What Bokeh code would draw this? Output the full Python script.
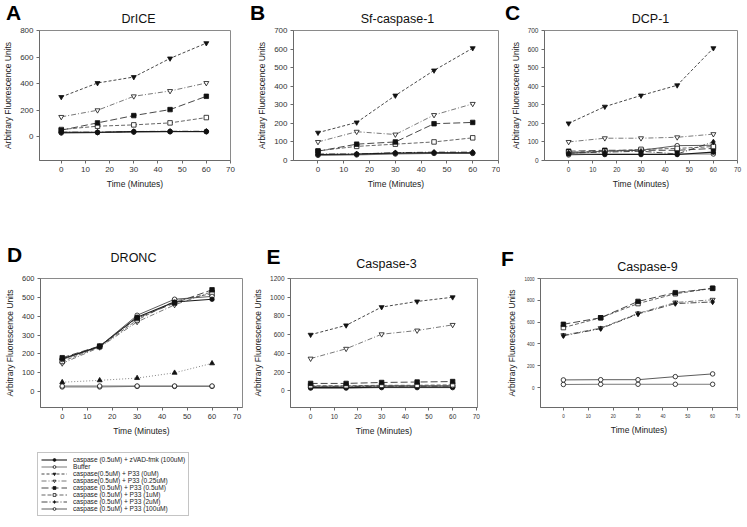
from bokeh.plotting import figure
from bokeh.layouts import column, row
from bokeh.models import FixedTicker, Range1d, Legend, LegendItem
from bokeh.core.properties import value
from bokeh.embed import file_html
from bokeh.resources import INLINE

FONT = "Liberation Sans"
NAN = float("nan")

# ---------------- data ----------------
time_min = [0, 15, 30, 45, 60]
x_ticks = [0, 10, 20, 30, 40, 50, 60, 70]

series_labels = {
    "zvad": "caspase (0.5uM) + zVAD-fmk (100uM)",
    "buffer": "Buffer",
    "p0": "caspase(0.5uM) + P33 (0uM)",
    "p025": "caspase(0.5uM) + P33 (0.25uM)",
    "p05": "caspase (0.5uM) + P33 (0.5uM)",
    "p1": "caspase (0.5uM) + P33 (1uM)",
    "p2": "caspase (0.5uM) + P33 (2uM)",
    "p100": "caspase (0.5uM) + P33 (100uM)",
}
legend_order = ["zvad", "buffer", "p0", "p025", "p05", "p1", "p2", "p100"]

panel_letters = ["A", "B", "C", "D", "E", "F"]
panel_titles = ["DrICE", "Sf-caspase-1", "DCP-1", "DRONC", "Caspase-3", "Caspase-9"]
x_title = "Time (Minutes)"
y_title = "Arbitrary Fluorescence Units"

# A  DrICE
A_zvad = [35, 35, 40, 40, 40]
A_buffer = [30, 32, 35, 38, 38]
A_p0 = [300, 405, 450, 590, 705]
A_p025 = [150, 200, 305, 345, 405]
A_p05 = [50, 105, 160, 205, 305]
A_p1 = [55, 80, 90, 105, 145]
A_p2 = [35, 35, 40, 42, 42]
A_p100 = [30, 32, 38, 40, 40]
A_yticks = [0, 200, 400, 600, 800]

# B  Sf-caspase-1
B_zvad = [32, 35, 40, 42, 42]
B_buffer = [28, 30, 35, 38, 38]
B_p0 = [150, 205, 350, 485, 605]
B_p025 = [100, 155, 140, 245, 305]
B_p05 = [50, 88, 100, 198, 205]
B_p1 = [52, 76, 88, 100, 122]
B_p2 = [35, 35, 42, 45, 45]
B_p100 = [30, 33, 38, 40, 40]
B_yticks = [0, 100, 200, 300, 400, 500, 600, 700]

# C  DCP-1
C_zvad = [35, 32, 32, 32, 45]
C_buffer = [30, 35, 35, 35, 35]
C_p0 = [200, 290, 350, 405, 605]
C_p025 = [100, 120, 120, 125, 142]
C_p05 = [50, 55, 55, 55, 65]
C_p1 = [45, 50, 60, 65, 75]
C_p2 = [40, 45, 50, 35, 100]
C_p100 = [40, 50, 55, 80, 82]
C_yticks = [0, 100, 200, 300, 400, 500, 600, 700]

# D  DRONC
D_zvad = [175, 240, 395, 475, 490]
D_p05 = [180, 242, 390, 470, 540]
D_p025 = [150, 235, 370, 460, 530]
D_p1 = [160, 238, 380, 480, 520]
D_p100 = [170, 240, 405, 490, 505]
D_buffer = [25, 25, 28, 28, 28]
D_buffer2 = [30, 30, 30, 30, 30]
D_triangle = [50, 60, 72, 100, 150]
D_yticks = [0, 100, 200, 300, 400, 500, 600]

# E  Caspase-3
E_zvad = [35, 35, 40, 40, 40]
E_buffer = [30, 30, 35, 35, 35]
E_p0 = [600, 700, 895, 955, 1000]
E_p025 = [345, 450, 605, 645, 705]
E_p05 = [80, 80, 90, 95, 100]
E_p1 = [55, 55, 60, 60, 65]
E_p2 = [45, 45, 50, 50, 52]
E_p100 = [50, 50, 55, 55, 55]
E_yticks = [0, 200, 400, 600, 800, 1000, 1200]

# F  Caspase-9
F_p05 = [580, 640, 790, 870, 910]
F_p1 = [550, 640, 770, 860, 910]
F_p2 = [475, 540, 675, 770, 785]
F_p025 = [480, 545, 680, 780, 805]
F_p100 = [70, 72, 72, 100, 125]
F_buffer = [28, 30, 30, 30, 30]
F_yticks = [0, 200, 400, 600, 800, 1000]

# ---------------- styles ----------------
STYLE = {
    "zvad": dict(marker="circle", fill="#111111", dash="solid", color="#1a1a1a", lw=1.1, size=4.5),
    "buffer": dict(marker="circle", fill="white", dash="solid", color="#6a6a6a", lw=0.9, size=4.5),
    "p0": dict(marker="inverted_triangle", fill="#111111", dash="3 2", color="#333333", lw=0.9, size=5),
    "p025": dict(marker="inverted_triangle", fill="white", dash="5 2 1 2", color="#6a6a6a", lw=0.9, size=5),
    "p05": dict(marker="square", fill="#111111", dash="7 3", color="#333333", lw=0.9, size=4.5),
    "p1": dict(marker="square", fill="white", dash="4 2", color="#555555", lw=0.9, size=4.5),
    "p2": dict(marker="diamond", fill="#111111", dash="6 2 1 2", color="#333333", lw=0.9, size=5.5),
    "p100": dict(marker="circle", fill="white", dash="solid", color="#4a4a4a", lw=0.9, size=4.5),
    "tri": dict(marker="triangle", fill="#111111", dash="1 2", color="#777777", lw=0.9, size=5),
}

# layout boxes in page pixels: fig=(x0, y0, w, h), frame=(left, top, right, bottom)
PANELS = [
    dict(fig=(0, 26, 250, 214), frame=(36, 30, 230, 163),
         xr=(-9, 70), yr=(-178, 800), yticks=A_yticks, tick_fs="8px",
         series=[("buffer", A_buffer), ("p100", A_p100), ("p2", A_p2), ("zvad", A_zvad),
                 ("p1", A_p1), ("p05", A_p05), ("p025", A_p025), ("p0", A_p0)]),
    dict(fig=(250, 26, 250, 214), frame=(293, 29, 498, 160),
         xr=(-9.5, 70), yr=(0, 700), yticks=B_yticks, tick_fs="8px",
         series=[("buffer", B_buffer), ("p100", B_p100), ("p2", B_p2), ("zvad", B_zvad),
                 ("p1", B_p1), ("p05", B_p05), ("p025", B_p025), ("p0", B_p0)]),
    dict(fig=(500, 26, 246, 214), frame=(544, 29, 737, 163),
         xr=(-10, 70), yr=(0, 700), yticks=C_yticks, tick_fs="6.5px",
         series=[("buffer", C_buffer), ("p100", C_p100), ("p05", C_p05), ("p1", C_p1),
                 ("zvad", C_zvad), ("p2", C_p2), ("p025", C_p025), ("p0", C_p0)]),
    dict(fig=(0, 273, 250, 170), frame=(40, 277, 242, 407),
         xr=(-8.7, 72.2), yr=(-84, 600), yticks=D_yticks, tick_fs="7.5px",
         series=[("buffer", D_buffer), ("buffer", D_buffer2), ("tri", D_triangle),
                 ("p025", D_p025), ("p1", D_p1), ("p100", D_p100), ("zvad", D_zvad), ("p05", D_p05)]),
    dict(fig=(250, 273, 240, 170), frame=(289, 276, 477, 408),
         xr=(-8.5, 70.5), yr=(-177, 1200), yticks=E_yticks, tick_fs="6.5px",
         series=[("buffer", E_buffer), ("zvad", E_zvad), ("p2", E_p2), ("p100", E_p100),
                 ("p1", E_p1), ("p05", E_p05), ("p025", E_p025), ("p0", E_p0)]),
    dict(fig=(490, 273, 256, 170), frame=(540, 278, 737, 412),
         xr=(-9.2, 70), yr=(-183, 1000), yticks=F_yticks, tick_fs="4.5px",
         series=[("buffer", F_buffer), ("p100", F_p100), ("p025", F_p025), ("p2", F_p2),
                 ("p1", F_p1), ("p05", F_p05)]),
]

# heading strips (page pixels): letters and panel titles
STRIPS = [
    dict(y0=0, h=26, letters=[(13, 12), (257, 12), (512, 12)],
         titles=[(138, 18.5), (397, 18.5), (650, 18.5)], idx=[0, 1, 2]),
    dict(y0=240, h=33, letters=[(14, 254), (273, 256), (507, 258)],
         titles=[(133, 257), (386, 263), (647, 266)], idx=[3, 4, 5]),
]


def add_series(p, key, ys):
    st = STYLE[key]
    p.line(time_min, ys, line_color=st["color"], line_width=st["lw"], line_dash=st["dash"])
    p.scatter(time_min, ys, marker=st["marker"], size=st["size"], fill_color=st["fill"],
              line_color="#111111", line_width=0.8)


def make_panel(spec):
    fx, fy, fw, fh = spec["fig"]
    l, t, r, b = spec["frame"]
    p = figure(width=fw, height=fh, output_backend="svg", toolbar_location=None,
               x_range=Range1d(*spec["xr"]), y_range=Range1d(*spec["yr"]),
               min_border_left=l - fx, min_border_right=fx + fw - r,
               min_border_top=t - fy, min_border_bottom=fy + fh - b,
               background_fill_color="white", border_fill_color="white")
    p.outline_line_color = "#8a8a8a"
    p.outline_line_width = 1
    p.xgrid.visible = False
    p.ygrid.visible = False
    p.xaxis.ticker = FixedTicker(ticks=x_ticks, minor_ticks=[])
    p.yaxis.ticker = FixedTicker(ticks=spec["yticks"], minor_ticks=[])
    p.xaxis.axis_label = x_title
    p.yaxis.axis_label = y_title
    for ax in (p.xaxis[0], p.yaxis[0]):
        ax.axis_line_color = "#6a6a6a"
        ax.major_tick_line_color = "#6a6a6a"
        ax.major_tick_out = 3
        ax.major_tick_in = 0
        ax.minor_tick_line_color = None
        ax.major_label_standoff = 3
        ax.major_label_text_font = FONT
        ax.major_label_text_font_size = spec["tick_fs"]
        ax.major_label_text_color = "#333333"
        ax.axis_label_text_font = FONT
        ax.axis_label_text_font_size = "8.5px"
        ax.axis_label_text_font_style = "normal"
        ax.axis_label_text_color = "#222222"
        ax.axis_label_standoff = 4
    for key, ys in spec["series"]:
        add_series(p, key, ys)
    return p


def make_strip(spec):
    h = spec["h"]
    y0 = spec["y0"]
    s = figure(width=746, height=h, output_backend="svg", toolbar_location=None,
               x_range=Range1d(0, 746), y_range=Range1d(h, 0),
               x_axis_type=None, y_axis_type=None, min_border=0,
               background_fill_color="white", border_fill_color="white")
    s.outline_line_color = None
    s.xgrid.visible = False
    s.ygrid.visible = False
    s.text(x=[pt[0] for pt in spec["letters"]], y=[pt[1] - y0 for pt in spec["letters"]],
           text=[panel_letters[i] for i in spec["idx"]],
           text_font=value(FONT), text_font_size=value("21px"), text_font_style="bold",
           text_align="center", text_baseline="middle", text_color="black")
    s.text(x=[pt[0] for pt in spec["titles"]], y=[pt[1] - y0 for pt in spec["titles"]],
           text=[panel_titles[i] for i in spec["idx"]],
           text_font=value(FONT), text_font_size=value("12.5px"), text_font_style="normal",
           text_align="center", text_baseline="middle", text_color="#111111")
    return s


figs = [make_panel(s) for s in PANELS]
strips = [make_strip(s) for s in STRIPS]

# legend panel
lg = figure(width=300, height=83, output_backend="svg", toolbar_location=None,
            x_range=Range1d(0, 1), y_range=Range1d(0, 1), x_axis_type=None, y_axis_type=None,
            min_border=0, background_fill_color="white", border_fill_color="white")
lg.outline_line_color = None
lg.xgrid.visible = False
lg.ygrid.visible = False
items = []
for key in legend_order:
    st = STYLE[key]
    r1 = lg.line(x=[NAN], y=[NAN], line_color=st["color"], line_width=st["lw"], line_dash=st["dash"])
    r2 = lg.scatter(x=[NAN], y=[NAN], marker=st["marker"], size=st["size"] - 0.5, fill_color=st["fill"],
                    line_color="#111111", line_width=0.8)
    items.append(LegendItem(label=series_labels[key], renderers=[r1, r2]))
legend = Legend(items=items, location=(37, 10), orientation="vertical",
                border_line_color="#8a8a8a", border_line_width=1,
                background_fill_color="white", background_fill_alpha=1,
                padding=3, spacing=0, margin=0,
                glyph_width=26, glyph_height=7, label_height=7, label_standoff=6,
                label_text_font=FONT, label_text_font_size="6.6px", label_text_color="#222222")
lg.add_layout(legend)

layout = column(strips[0], row(figs[0], figs[1], figs[2]),
                strips[1], row(figs[3], figs[4], figs[5]), lg)

open("out.html", "w").write(file_html(layout, INLINE))
